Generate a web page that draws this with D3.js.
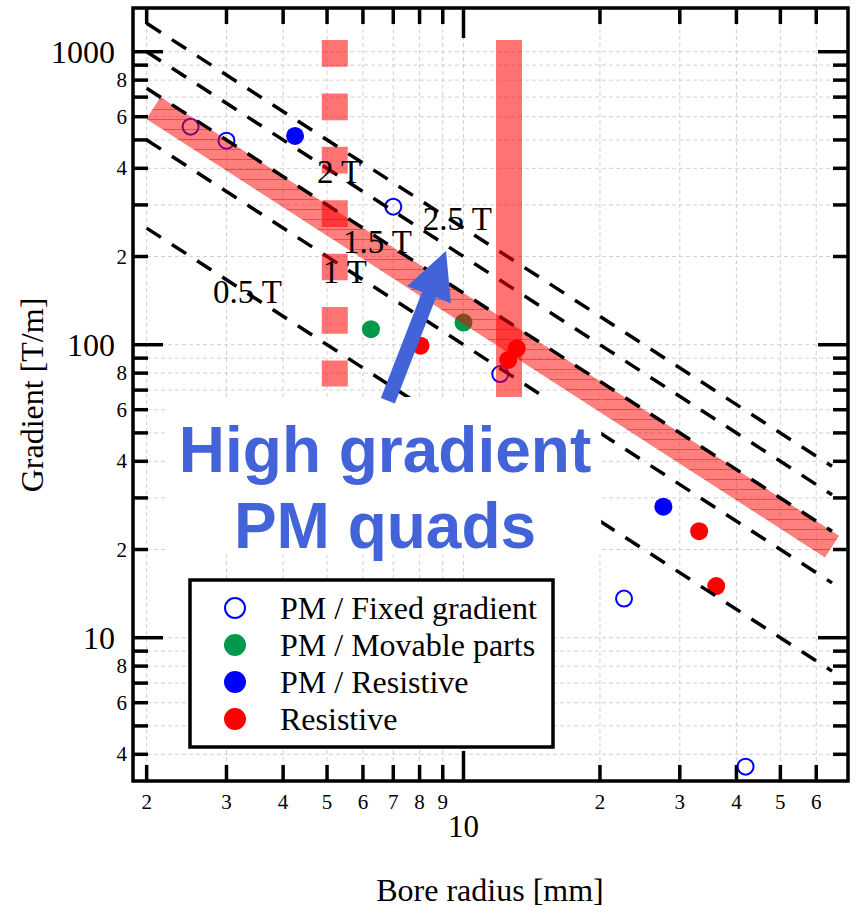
<!DOCTYPE html>
<html>
<head>
  <meta charset="utf-8">
  <script src="https://d3js.org/d3.v7.min.js"></script>
  <style>
    body { margin: 0; background: #fff; }
    svg { display: block; font-family: "Liberation Serif", "Times New Roman", serif; }
  </style>
</head>
<body>
<script>
// --- data (bore radius in mm, gradient in T/m) ---
var fixedR   = [2.5, 3.0, 7.0, 12.05, 22.6, 41.9];
var fixedG   = [555, 497, 296, 79.4, 13.6, 3.63];
var movableR = [6.25, 10.0];
var movableG = [113, 119];
var pmResR   = [4.25, 27.6];
var pmResG   = [516, 28.0];
var resR     = [8.04, 12.55, 13.1, 33.1, 36.1];
var resG     = [99.2, 88.7, 97.1, 23.1, 15.0];

// pole-tip field lines G = B / r
var fieldB      = [0.5, 1, 1.5, 2, 2.5];
var fieldRange  = [2, 65];
var fieldLabels = ["0.5 T", "1 T", "1.5 T", "2 T", "2.5 T"];
var labelR      = [2.80, 4.89, 5.42, 4.75, 8.13];
var labelG      = [138.8, 162, 205.6, 357, 246];

// highlighted band and vertical limits
var bandB     = 1.33;
var bandRange = [2.07, 65];
var barR      = [5.2, 12.6];
var barTop    = [1096, 1096];
var barBottom = [72, 62];

var arrowR = [6.81, 9.15];
var arrowG = [64.4, 209];

var xTicks = [2, 3, 4, 5, 6, 7, 8, 9, 10, 20, 30, 40, 50, 60];
var yTicks = [4, 5, 6, 7, 8, 9, 10, 20, 30, 40, 50, 60, 70, 80, 90,
              100, 200, 300, 400, 500, 600, 700, 800, 900, 1000];

var legendNames = ["PM / Fixed gradient", "PM / Movable parts", "PM / Resistive", "Resistive"];
var legendColors = ["#0000ff", "#00984a", "#0000ff", "#ff0000"];

var W = 856, H = 907;
var pL = 133, pR = 848, pT = 8, pB = 781;

var svg = d3.select("body").append("svg").attr("width", W).attr("height", H);

var x = d3.scaleLog().domain([1.866, 70.5]).range([pL, pR]);
var y = d3.scaleLog().domain([3.243, 1410]).range([pB, pT]);

function isMajor(v) { return Math.abs(Math.log10(v) - Math.round(Math.log10(v))) < 1e-9; }
function lead(v) { return Math.round(v / Math.pow(10, Math.floor(Math.log10(v) + 1e-9))); }

var defs = svg.append("defs");
var pat = defs.append("pattern").attr("id", "hatch")
    .attr("patternUnits", "userSpaceOnUse").attr("width", 12).attr("height", 10);
pat.append("rect").attr("width", 12).attr("height", 10).attr("fill", "rgba(255,0,0,0.5)");
pat.append("line").attr("x1", 0).attr("x2", 12).attr("y1", 9.5).attr("y2", 9.5)
    .attr("stroke", "rgba(255,0,0,0.45)").attr("stroke-width", 1);

defs.append("clipPath").attr("id", "plot").append("rect")
    .attr("x", pL).attr("y", pT).attr("width", pR - pL).attr("height", pB - pT);

// grid
var grid = svg.append("g").attr("stroke", "#d0d0d0").attr("stroke-width", 1)
    .attr("stroke-dasharray", "4,3");
grid.selectAll(".gx").data(xTicks).enter().append("line")
    .attr("x1", d => x(d)).attr("x2", d => x(d)).attr("y1", pT).attr("y2", pB);
grid.selectAll(".gy").data(yTicks).enter().append("line")
    .attr("y1", d => y(d)).attr("y2", d => y(d)).attr("x1", pL).attr("x2", pR);

var plot = svg.append("g").attr("clip-path", "url(#plot)");

// points
function pts(R, G) { return R.map((r, i) => ({r: r, g: G[i]})); }
plot.selectAll(".fixed").data(pts(fixedR, fixedG)).enter().append("circle")
    .attr("cx", d => x(d.r)).attr("cy", d => y(d.g)).attr("r", 8)
    .attr("fill", "none").attr("stroke", "#0000ff").attr("stroke-width", 2);
plot.selectAll(".mov").data(pts(movableR, movableG)).enter().append("circle")
    .attr("cx", d => x(d.r)).attr("cy", d => y(d.g)).attr("r", 9).attr("fill", legendColors[1]);
plot.selectAll(".pmr").data(pts(pmResR, pmResG)).enter().append("circle")
    .attr("cx", d => x(d.r)).attr("cy", d => y(d.g)).attr("r", 9).attr("fill", legendColors[2]);
plot.selectAll(".res").data(pts(resR, resG)).enter().append("circle")
    .attr("cx", d => x(d.r)).attr("cy", d => y(d.g)).attr("r", 9).attr("fill", legendColors[3]);

// band along constant field
function drawBand(g) {
  return g.append("line")
    .attr("x1", x(bandRange[0])).attr("y1", y(bandB * 1000 / bandRange[0]))
    .attr("x2", x(bandRange[1])).attr("y2", y(bandB * 1000 / bandRange[1]))
    .attr("stroke", "url(#hatch)").attr("stroke-width", 26);
}
drawBand(plot);

// dashed field lines
plot.selectAll(".field").data(fieldB).enter().append("line")
    .attr("x1", x(fieldRange[0])).attr("y1", d => y(d * 1000 / fieldRange[0]))
    .attr("x2", x(fieldRange[1])).attr("y2", d => y(d * 1000 / fieldRange[1]))
    .attr("stroke", "#000").attr("stroke-width", 3.5).attr("stroke-dasharray", "17,13");

// vertical limit bars
plot.selectAll(".bar").data(barR).enter().append("line")
    .attr("x1", d => x(d)).attr("x2", d => x(d))
    .attr("y1", (d, i) => y(barTop[i])).attr("y2", (d, i) => y(barBottom[i]))
    .attr("stroke", "rgba(255,0,0,0.55)").attr("stroke-width", 26)
    .attr("stroke-dasharray", (d, i) => i === 0 ? "26.7,26.7" : null);

// annotation text with white backing
var note = svg.append("g");
var noteBg = note.append("rect").attr("fill", "#fff");
var noteText = note.append("text").attr("text-anchor", "middle")
    .style("font-family", "'Liberation Sans', Arial, sans-serif")
    .style("font-weight", "bold").style("font-size", "64px").attr("fill", "#4363d8");
noteText.append("tspan").attr("x", 385).attr("y", 472).text("High gradient");
noteText.append("tspan").attr("x", 385).attr("y", 548).text("PM quads");
var bb = noteText.node().getBBox();
var box = {x: bb.x - 12, y: bb.y - 17, w: bb.width + 22, h: bb.height + 10};
noteBg.attr("x", box.x).attr("y", box.y).attr("width", box.w).attr("height", box.h);
// the band stays visible where it crosses the white backing
defs.append("clipPath").attr("id", "noteclip").append("rect")
    .attr("x", box.x).attr("y", box.y).attr("width", box.w).attr("height", box.h);
drawBand(note.insert("g", "text").attr("clip-path", "url(#noteclip)"));

// arrow
(function () {
  var x0 = x(arrowR[0]), y0 = y(arrowG[0]), x1 = x(arrowR[1]), y1 = y(arrowG[1]);
  var dx = x1 - x0, dy = y1 - y0, L = Math.hypot(dx, dy);
  var ux = dx / L, uy = dy / L, nx = -uy, ny = ux;
  var sw = 7.5, hw = 23.5, hl = 47;
  var bx = x1 - ux * hl, by = y1 - uy * hl;
  var p = [[x0 + nx * sw, y0 + ny * sw], [bx + nx * sw, by + ny * sw], [bx + nx * hw, by + ny * hw],
           [x1, y1], [bx - nx * hw, by - ny * hw], [bx - nx * sw, by - ny * sw], [x0 - nx * sw, y0 - ny * sw]];
  svg.append("polygon").attr("points", p.map(q => q.join(",")).join(" ")).attr("fill", "#4363d8");
})();

// field labels
svg.selectAll(".flab").data(fieldLabels).enter().append("text")
    .attr("x", (d, i) => x(labelR[i])).attr("y", (d, i) => y(labelG[i]))
    .style("font-size", "33px").text(d => d);

// frame
svg.append("rect").attr("x", pL).attr("y", pT).attr("width", pR - pL).attr("height", pB - pT)
    .attr("fill", "none").attr("stroke", "#000").attr("stroke-width", 3.5);

// ticks
var tk = svg.append("g").attr("stroke", "#000").attr("stroke-width", 3.5);
xTicks.forEach(function (v) {
  var L = isMajor(v) ? 30 : 16;
  tk.append("line").attr("x1", x(v)).attr("x2", x(v)).attr("y1", pB).attr("y2", pB - L);
  tk.append("line").attr("x1", x(v)).attr("x2", x(v)).attr("y1", pT).attr("y2", pT + L);
});
yTicks.forEach(function (v) {
  var L = isMajor(v) ? 30 : 15;
  tk.append("line").attr("y1", y(v)).attr("y2", y(v)).attr("x1", pL).attr("x2", pL + L);
  tk.append("line").attr("y1", y(v)).attr("y2", y(v)).attr("x1", pR).attr("x2", pR - L);
});

// tick labels
svg.selectAll(".xl").data(xTicks).enter().append("text")
    .attr("x", d => x(d))
    .attr("y", d => isMajor(d) ? 837 : 809)
    .attr("text-anchor", "middle")
    .style("font-size", d => isMajor(d) ? "31px" : "21px")
    .text(d => isMajor(d) ? d : lead(d));
svg.selectAll(".yl").data(yTicks.filter(v => isMajor(v) || lead(v) % 2 === 0)).enter().append("text")
    .attr("x", d => isMajor(d) ? 115 : 127)
    .attr("y", d => y(d) + (isMajor(d) ? 11 : 7))
    .attr("text-anchor", "end")
    .style("font-size", d => isMajor(d) ? "32px" : "21px")
    .text(d => isMajor(d) ? d : lead(d));

// axis titles
svg.append("text").attr("x", 490).attr("y", 901).attr("text-anchor", "middle")
    .style("font-size", "32px").text("Bore radius [mm]");
svg.append("text").attr("transform", "translate(43,395) rotate(-90)").attr("text-anchor", "middle")
    .style("font-size", "32px").text("Gradient [T/m]");

// legend
var lg = svg.append("g");
lg.append("rect").attr("x", 190).attr("y", 580).attr("width", 363).attr("height", 167)
    .attr("fill", "#fff").attr("stroke", "#000").attr("stroke-width", 3.5);
legendNames.forEach(function (name, i) {
  var cy = 608 + i * 37;
  var c = lg.append("circle").attr("cx", 235).attr("cy", cy);
  if (i === 0) c.attr("r", 10).attr("fill", "none").attr("stroke", legendColors[0]).attr("stroke-width", 2);
  else c.attr("r", 11).attr("fill", legendColors[i]);
  lg.append("text").attr("x", 280).attr("y", cy + 11).style("font-size", "32px").text(name);
});
</script>
</body>
</html>
